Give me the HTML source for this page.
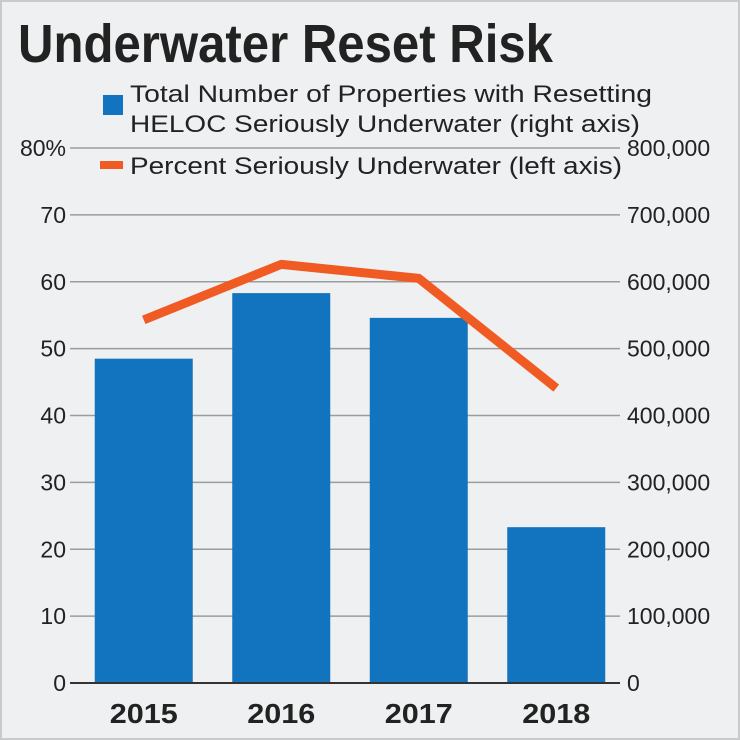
<!DOCTYPE html>
<html><head><meta charset="utf-8"><style>
html,body{margin:0;padding:0;background:#fff}
svg{display:block;font-family:"Liberation Sans",sans-serif}
</style></head><body>
<svg id="chart" width="740" height="740" viewBox="0 0 740 740">
<rect x="1" y="1" width="738" height="738" fill="#eef0f1" stroke="#c8cacc" stroke-width="2"/>
<text x="18" y="62" font-size="54" font-weight="bold" fill="#222" textLength="535" lengthAdjust="spacingAndGlyphs">Underwater Reset Risk</text>
<g id="grid"></g>
<g id="bars"></g>
<g id="line"></g>
<g id="axes"></g>
<g>
<rect x="103" y="95" width="20" height="20" fill="#1273be"/>
<text x="130" y="102" font-size="24" fill="#222" textLength="522" lengthAdjust="spacingAndGlyphs">Total Number of Properties with Resetting</text>
<text x="130" y="132" font-size="24" fill="#222" textLength="510" lengthAdjust="spacingAndGlyphs">HELOC Seriously Underwater (right axis)</text>
<line x1="100" y1="165" x2="123" y2="165" stroke="#f05a23" stroke-width="8"/>
<text x="130" y="174" font-size="24" fill="#222" textLength="492" lengthAdjust="spacingAndGlyphs">Percent Seriously Underwater (left axis)</text>
</g>
</svg>
<script>
const categories=["2015","2016","2017","2018"];
const properties=[485000,583000,546000,233000];
const percent=[54.3,62.6,60.5,44.1];
const leftTicks=[0,10,20,30,40,50,60,70,80];
const rightTicks=["0","100,000","200,000","300,000","400,000","500,000","600,000","700,000","800,000"];
const NS="http://www.w3.org/2000/svg";
const X0=70,X1=620,Y0=683,Y1=148;
const yL=v=>Y0-(v/80)*(Y0-Y1);
const yR=v=>Y0-(v/800000)*(Y0-Y1);
const band=(X1-X0)/categories.length;
const xC=i=>X0+band*(i+0.5)+5;
function mk(t,a,p){const e=document.createElementNS(NS,t);for(const k in a)e.setAttribute(k,a[k]);document.getElementById(p).appendChild(e);return e;}
leftTicks.forEach((t,i)=>{
  const y=yL(t);
  if(t>0){const g=mk("line",{x1:X0,x2:X1,y1:y,y2:y,stroke:"#9a9c9e","stroke-width":1.5},"grid");
  
  }
  const l=mk("text",{x:66,y:y+8,"font-size":23,"text-anchor":"end",fill:"#222"},"axes");
  l.textContent=t+(t===80?"%":"");
  
  
  const r=mk("text",{x:627,y:y+8,"font-size":23,fill:"#222"},"axes");
  r.textContent=rightTicks[i];
  
  
});
const bw=98;
categories.forEach((c,i)=>{
  const y=yR(properties[i]);
  const b=mk("rect",{x:xC(i)-bw/2,y:y,width:bw,height:Y0-y,fill:"#1273be"},"bars");
  
  
  const t=mk("text",{x:xC(i)-34,y:723,"font-size":28,"font-weight":"bold",textLength:68,lengthAdjust:"spacingAndGlyphs",fill:"#222"},"axes");
  t.textContent=c;
  
  
});
const ax=mk("line",{x1:X0,x2:X1,y1:Y0,y2:Y0,stroke:"#333","stroke-width":2},"axes");


const pl=mk("polyline",{points:percent.map((v,i)=>xC(i)+","+yL(v)).join(" "),fill:"none",stroke:"#f05a23","stroke-width":9,"stroke-linejoin":"round"},"line");


</script>
</body></html>
